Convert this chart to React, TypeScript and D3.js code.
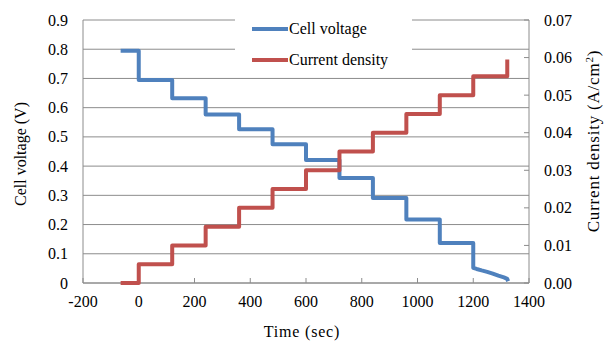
import { scaleLinear, line } from "d3";

// step start times (sec) and the level held from each one
const stepTimes = [-65, 0, 120, 240, 360, 480, 600, 720, 840, 960, 1080, 1200];
const voltageLevels = [0.795, 0.695, 0.632, 0.577, 0.526, 0.475, 0.421, 0.359, 0.291, 0.217, 0.137];
const voltageTailTimes = [1200, 1212, 1230, 1250, 1270, 1290, 1310, 1322, 1325];
const voltageTailValues = [0.052, 0.048, 0.043, 0.038, 0.032, 0.025, 0.019, 0.014, 0.006];
const currentLevels = [0, 0.005, 0.01, 0.015, 0.02, 0.025, 0.03, 0.035, 0.04, 0.045, 0.05, 0.055];
const currentEnd = 1322;
const currentSpike = 0.0595;

const xTicks = [-200, 0, 200, 400, 600, 800, 1000, 1200, 1400];
const yLeftTicks = [0, 0.1, 0.2, 0.3, 0.4, 0.5, 0.6, 0.7, 0.8, 0.9];
const yRightTicks = [0, 0.01, 0.02, 0.03, 0.04, 0.05, 0.06, 0.07];

const W = 605;
const H = 341;
const left = 83;
const right = 529;
const top = 20;
const bottom = 283;
const font = '"Liberation Serif", "Times New Roman", "DejaVu Serif", serif';
const blue = "#4F81BD";
const red = "#C0504D";
const grid = "#8c8c8c";

export default function App() {
    const x = scaleLinear().domain([-200, 1400]).range([left, right]);
    const yV = scaleLinear().domain([0, 0.9]).range([bottom, top]);
    const yC = scaleLinear().domain([0, 0.07]).range([bottom, top]);

    // voltage: steps then a sloping tail
    const vPts: [number, number][] = [];
    voltageLevels.forEach((v, i) => {
        vPts.push([stepTimes[i], v]);
        vPts.push([stepTimes[i + 1], v]);
    });
    voltageTailTimes.forEach((t, i) => vPts.push([t, voltageTailValues[i]]));

    const cPts: [number, number][] = [];
    currentLevels.forEach((c, i) => {
        cPts.push([stepTimes[i], c]);
        cPts.push([i + 1 < stepTimes.length ? stepTimes[i + 1] : currentEnd, c]);
    });
    cPts.push([currentEnd, currentSpike]);

    const vLine = line<[number, number]>()
        .x((d) => x(d[0]))
        .y((d) => yV(d[1]));
    const cLine = line<[number, number]>()
        .x((d) => x(d[0]))
        .y((d) => yC(d[1]));

    return (
        <svg
            width={W}
            height={H}
            style={{ position: "absolute", left: 0, top: 0, background: "#fff", fontFamily: font }}
        >
            {/* gridlines */}
            {yLeftTicks.map((t) => (
                <line key={t} x1={left} x2={right} y1={yV(t)} y2={yV(t)} stroke={grid} strokeWidth={1} />
            ))}
            {/* axes */}
            <line x1={left} x2={left} y1={top} y2={bottom} stroke={grid} />
            <line x1={right} x2={right} y1={top} y2={bottom} stroke={grid} />
            <line x1={left} x2={right} y1={bottom} y2={bottom} stroke={grid} />
            {xTicks.map((t) => (
                <line key={t} x1={x(t)} x2={x(t)} y1={bottom} y2={bottom - 5} stroke={grid} />
            ))}
            {yRightTicks.map((t) => (
                <line key={t} x1={right - 5} x2={right} y1={yC(t)} y2={yC(t)} stroke={grid} />
            ))}

            {/* tick labels */}
            {yLeftTicks.map((t) => (
                <text key={t} x={68} y={yV(t)} dy="0.35em" textAnchor="end" fontSize={16} fill="#000">
                    {t === 0 ? "0" : t.toFixed(1)}
                </text>
            ))}
            {yRightTicks.map((t) => (
                <text key={t} x={544} y={yC(t)} dy="0.35em" fontSize={16} fill="#000">
                    {t.toFixed(2)}
                </text>
            ))}
            {xTicks.map((t) => (
                <text key={t} x={x(t)} y={307} textAnchor="middle" fontSize={16} fill="#000">
                    {t}
                </text>
            ))}

            {/* axis titles */}
            <text x={302} y={337} textAnchor="middle" fontSize={16} letterSpacing={0.8}>
                Time (sec)
            </text>
            <text transform="translate(26,154) rotate(-90)" textAnchor="middle" fontSize={16}>
                Cell voltage (V)
            </text>
            <text transform="translate(599,141) rotate(-90)" textAnchor="middle" fontSize={17} letterSpacing={0.8}>
                Current density (A/cm<tspan baselineShift="super" fontSize={11}>2</tspan>)
            </text>

            {/* series */}
            <path d={vLine(vPts) ?? ""} fill="none" stroke={blue} strokeWidth={4} strokeLinejoin="round" />
            <path d={cLine(cPts) ?? ""} fill="none" stroke={red} strokeWidth={4} strokeLinejoin="round" />

            {/* legend */}
            <rect x={235} y={13} width={177} height={58} fill="#fff" />
            <line x1={252} x2={288} y1={29} y2={29} stroke={blue} strokeWidth={4} />
            <text x={289} y={34} fontSize={16}>
                Cell voltage
            </text>
            <line x1={252} x2={288} y1={60} y2={60} stroke={red} strokeWidth={4} />
            <text x={289} y={65} fontSize={16}>
                Current density
            </text>
        </svg>
    );
}
